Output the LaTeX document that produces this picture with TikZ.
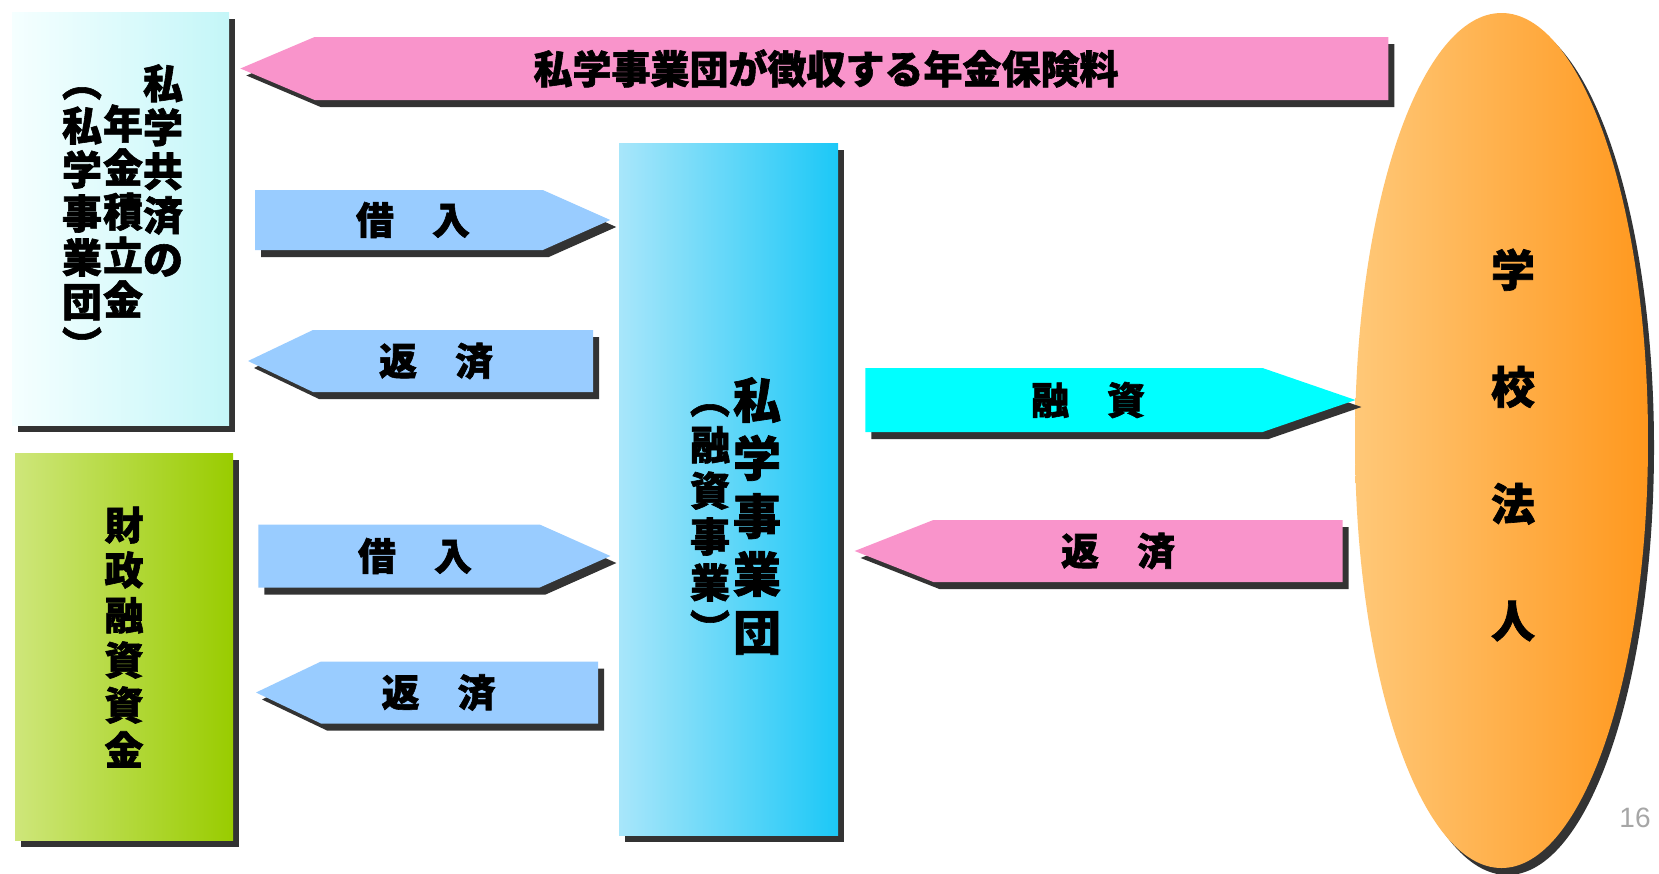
\documentclass[tikz,border=0pt]{standalone}
\usepackage{fontspec}
\newfontfamily\jpfont{Noto Sans CJK JP}[BoldFeatures={FakeBold=1.5}]
\newfontfamily\numfont{Liberation Sans}
\usetikzlibrary{shapes.geometric,shapes.arrows,shadows}
\definecolor{kyosaiL}{RGB}{245,255,255}
\definecolor{kyosaiR}{RGB}{196,246,248}
\definecolor{zaitoL}{RGB}{206,230,122}
\definecolor{zaitoR}{RGB}{153,204,0}
\definecolor{jigyoL}{RGB}{168,230,250}
\definecolor{jigyoR}{RGB}{28,200,247}
\definecolor{gakkoL}{RGB}{255,200,120}
\definecolor{gakkoR}{RGB}{255,152,30}
\definecolor{pinkarrow}{RGB}{249,148,203}
\definecolor{bluearrow}{RGB}{153,204,255}
\definecolor{cyanarrow}{RGB}{0,255,255}

\begin{document}
\begin{tikzpicture}
[x=0.5pt, y=-0.5pt,
 every node/.style={inner sep=0pt},
 shadowed/.style={drop shadow={shadow xshift=3pt, shadow yshift=-3.5pt, fill=black!80, opacity=1}},
 box/.style={rectangle, shadowed},
 blockarrow/.style={single arrow, single arrow head extend=0pt, shadowed,
   font=\jpfont\bfseries\fontsize{19pt}{19pt}\selectfont},
 toleft/.style={shape border rotate=180},
 tate/.style 2 args={align=center, font=\jpfont\bfseries\fontsize{#1}{#2}\selectfont}]
\useasboundingbox[fill=white] (0,0) rectangle (1659,873);

% boxes
\node (kyosai) [box, minimum width=108.5pt, minimum height=206.5pt, left color=kyosaiL, right color=kyosaiR] at (120.5, 218.5) {};
\node (zaito) [box, minimum width=109pt, minimum height=193.5pt, left color=zaitoL, right color=zaitoR] at (124, 646.5) {};
\node (jigyodan) [box, minimum width=109.5pt, minimum height=346pt, left color=jigyoL, right color=jigyoR] at (728.5, 489) {};
\node (gakko) [ellipse, shadowed, minimum width=146.5pt, minimum height=427.5pt, left color=gakkoL, right color=gakkoR] at (1501.5, 440.5) {};

% vertical texts
\node (kyosai-a) [tate={20pt}{22pt}] at (163, 170.5) {私\\学\\共\\済\\の};
\node (kyosai-b) [tate={20pt}{22pt}] at (123, 211) {年\\金\\積\\立\\金};
\node (kyosai-c) [tate={20pt}{22pt}] at (82, 224) {︵\\私\\学\\事\\業\\団\\︶};
\node (zaito-a) [tate={19.5pt}{22.5pt}] at (124, 637) {財\\政\\融\\資\\資\\金};
\node (jigyodan-a) [tate={24pt}{29pt}] at (757, 516) {私\\学\\事\\業\\団};
\node (jigyodan-b) [tate={20pt}{23pt}] at (710, 524) {︵\\融\\資\\事\\業\\︶};
\node (gakko-a) [tate={22pt}{58.5pt}] at (1513, 445) {学\\校\\法\\人};

% block arrows (node at the centre of the body)
\node (hokenryo) [blockarrow, toleft, fill=pinkarrow, minimum height=574pt, minimum width=31.5pt, single arrow tip angle=46,
  font=\jpfont\bfseries\fontsize{19.5pt}{19.5pt}\selectfont] at (851.5, 68.5) {私学事業団が徴収する年金保険料\hspace*{25.5pt}};
\node (kariire1) [blockarrow, fill=bluearrow, minimum height=177.5pt, minimum width=30pt, single arrow tip angle=48] at (399, 220) {\hspace*{14pt}借　入};
\node (hensai1) [blockarrow, toleft, fill=bluearrow, minimum height=172.5pt, minimum width=31pt, single arrow tip angle=51] at (453, 361) {返　済\hspace*{17pt}};
\node (kariire2) [blockarrow, fill=bluearrow, minimum height=176pt, minimum width=31.5pt, single arrow tip angle=48] at (399, 556) {\hspace*{16pt}借　入};
\node (hensai2) [blockarrow, toleft, fill=bluearrow, minimum height=171pt, minimum width=31pt, single arrow tip angle=51] at (459.5, 692.5) {返　済\hspace*{21pt}};
\node (yushi) [blockarrow, fill=cyanarrow, minimum height=245pt, minimum width=32pt, single arrow tip angle=38] at (1064, 400) {\hspace*{24pt}融　資};
\node (hensai3) [blockarrow, toleft, fill=pinkarrow, minimum height=244pt, minimum width=31pt, single arrow tip angle=43] at (1138, 551) {返　済\hspace*{20pt}};

% page number
\node (page) [font=\numfont\fontsize{14pt}{14pt}\selectfont, text=black!35] at (1635, 818) {16};
\end{tikzpicture}
\end{document}
